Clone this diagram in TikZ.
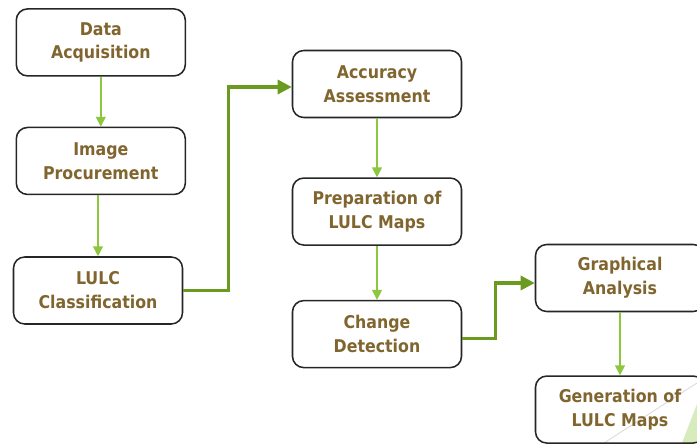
\documentclass[tikz,border=0pt]{standalone}
\usepackage{fontspec}
\setmainfont{DejaVu Sans Condensed}
\usetikzlibrary{arrows.meta,positioning}

\definecolor{stepbrown}{HTML}{80652F}
\definecolor{lightgreen}{HTML}{8DC63F}
\definecolor{darkgreen}{HTML}{6A9A1F}

\begin{document}
\begin{tikzpicture}[
    block/.style={rectangle, draw=black!85, line width=1.1pt, rounded corners=8pt,
        minimum width=4.225cm, minimum height=1.675cm, align=center,
        text=stepbrown, font=\fontsize{12.5}{17}\selectfont\bfseries},
    arrow/.style={-{Triangle[width=7pt,length=7pt]}, draw=lightgreen, line width=1.1pt},
    bigarrow/.style={-{Triangle[width=10pt,length=10pt]}, draw=darkgreen, line width=2.2pt}
]
\useasboundingbox (0,0) rectangle (17.425,-11.075);

% background corner of the slide
\draw[black!15, line width=0.6pt] (15.1,-11.075) -- (17.425,-9.575);
\fill[lightgreen!35] (17.05,-11.075) -- (17.425,-10.1) -- (17.425,-11.075) -- cycle;

% Left column
\node[block] (acq) at (2.52,-1.06) {Data\\Acquisition};
\node[block, below=1.25cm of acq] (proc) {Image\\Procurement};
\node[block, below=1.525cm of proc, xshift=-0.07cm] (cls) {LULC\\Classification};

% Middle column
\node[block] (acc) at (9.425,-2.1) {Accuracy\\Assessment};
\node[block, below=1.475cm of acc] (prep) {Preparation of\\LULC Maps};
\node[block, below=1.35cm of prep] (chg) {Change\\Detection};

% Right column
\node[block] (graph) at (15.5,-6.95) {Graphical\\Analysis};
\node[block, below=1.575cm of graph] (gen) {Generation of\\LULC Maps};

\draw[arrow] (acq.south) -- (proc.north);
\draw[arrow] (proc.south -| cls.north) -- (cls.north);
\draw[arrow] (acc.south) -- (prep.north);
\draw[arrow] (prep.south) -- (chg.north);
\draw[arrow] (graph.south) -- (gen.north);

\draw[bigarrow] (cls.east) -- ++(1.125,0) |- ([yshift=-0.075cm]acc.west);
\draw[bigarrow] ([yshift=-0.1cm]chg.east) -- ++(0.825,0) |- ([yshift=-0.125cm]graph.west);

\end{tikzpicture}
\end{document}
